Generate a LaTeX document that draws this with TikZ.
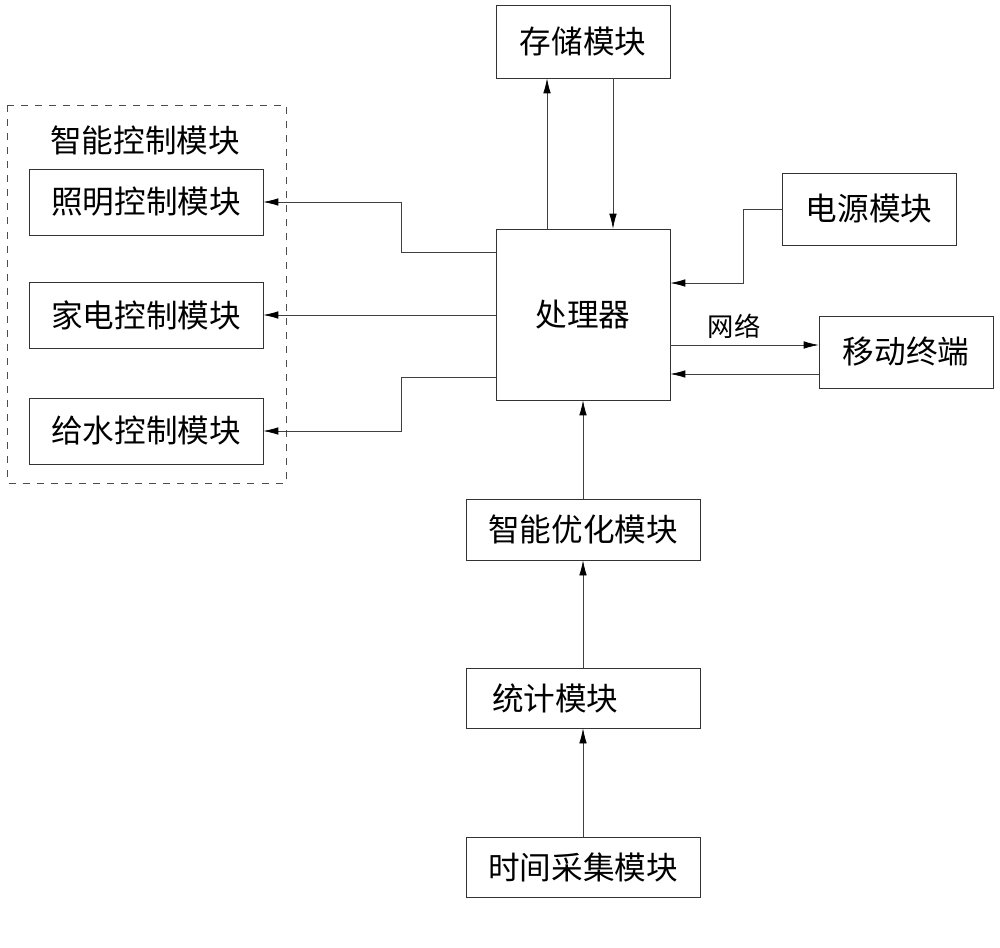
\documentclass[tikz,border=0pt]{standalone}
\usepackage{fontspec}
\setmainfont{Noto Sans CJK SC}
\usetikzlibrary{arrows.meta}

\begin{document}
\begin{tikzpicture}[x=0.02cm,y=-0.02cm,>={Latex[length=3mm,width=1.5mm,color=black]},
  box/.style={draw=black!80,thin,font=\fontsize{18}{20}\selectfont,inner sep=0pt},
  wire/.style={draw=black!75,thin}]
    \useasboundingbox (0,0) rectangle (1000,947);
    % smart control group
    \draw[black!70,thin,dash pattern=on 4pt off 4pt] (7,105) rectangle (286,483);
    \node[font=\fontsize{18}{20}\selectfont] (grp) at (145,140) {智能控制模块};
    \node[box,minimum width=4.68cm,minimum height=1.32cm] (light) at (146,202) {照明控制模块};
    \node[box,minimum width=4.68cm,minimum height=1.32cm] (appl) at (146,315) {家电控制模块};
    \node[box,minimum width=4.68cm,minimum height=1.32cm] (water) at (146,431) {给水控制模块};
    % centre column
    \node[box,minimum width=3.48cm,minimum height=1.46cm] (store) at (583,41.5) {存储模块};
    \node[box,minimum width=3.48cm,minimum height=3.42cm] (cpu) at (583,314.5) {处理器};
    \node[box,minimum width=4.68cm,minimum height=1.22cm] (opt) at (583,529.5) {智能优化模块};
    \node[box,minimum width=4.68cm,minimum height=1.2cm,text width=3.64cm,align=left,inner xsep=0.52cm] (stat) at (583,698) {统计模块};
    \node[box,minimum width=4.68cm,minimum height=1.2cm] (time) at (583,867) {时间采集模块};
    % right side
    \node[box,minimum width=3.48cm,minimum height=1.44cm] (power) at (869,209) {电源模块};
    \node[box,minimum width=3.48cm,minimum height=1.44cm] (mobile) at (906,352) {移动终端};
    % connections
    \draw[wire,->] ([xshift=-0.72cm]cpu.north) -- ([xshift=-0.72cm]store.south);
    \draw[wire,->] ([xshift=0.6cm]store.south) -- ([xshift=0.6cm]cpu.north);
    \draw[wire,->] (power.west) -- ++(-38,0) |- ([yshift=0.63cm]cpu.east);
    \draw[wire,->] ([yshift=-0.61cm]cpu.east) coordinate (n1) -- node[above,pos=0.43,font=\fontsize{15}{17}\selectfont] (net) {网络} (n1 -| mobile.west);
    \draw[wire,->] ([yshift=-0.44cm]mobile.west) coordinate (n2) -- (n2 -| cpu.east);
    \draw[wire,->] ([yshift=1.25cm]cpu.west) -- ++(-94,0) |- (light.east);
    \draw[wire,->] (cpu.west |- appl.east) -- (appl.east);
    \draw[wire,->] ([yshift=-1.25cm]cpu.west) -- ++(-94,0) |- (water.east);
    \draw[wire,->] (opt) -- (cpu);\draw[wire,->] (stat) -- (opt);
    \draw[wire,->] (time) -- (stat);
\end{tikzpicture}
\end{document}
